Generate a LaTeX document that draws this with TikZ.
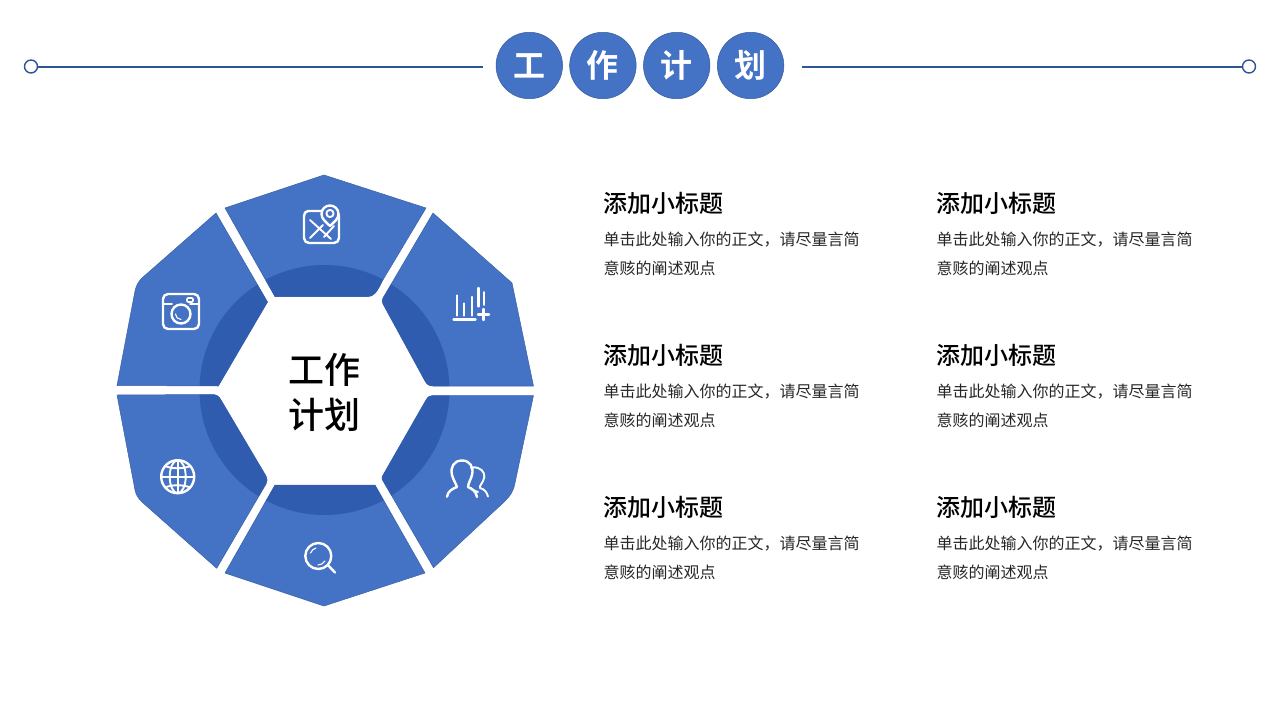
\documentclass[tikz,border=0pt]{standalone}
\usepackage{fontspec}
\newfontfamily\cjk{Noto Sans CJK SC}
\newfontfamily\cjkb{Noto Sans CJK SC Bold}
\newfontfamily\cjkm{Noto Sans CJK SC Medium}
\definecolor{segblue}{HTML}{4472C4}
\definecolor{segdark}{HTML}{2F5CAE}
\definecolor{edgeblue}{HTML}{2F5597}
\newcommand{\segT}{(324,175) -- (426,208) -- (382,281.5) .. controls (377,292) and (374,296.7) .. (367,296.7) -- (275,296.7) -- (225,208) -- cycle}
\newcommand{\segUL}{(216,213) -- (142,278) .. controls (138,282) and (136,286) .. (135,291) -- (117,385.5) -- (218.3,386) -- (267.5,302) -- cycle}
\newcommand{\segUR}{(433,213) -- (512,283) -- (533.5,386) -- (433,386) .. controls (429,386) and (427,384.5) .. (425,381) -- (383,304) .. controls (382,302) and (382,300) .. (383,298) -- cycle}
\newcommand{\segLL}{(117,395) -- (212,394.5) .. controls (216,394.5) and (219,396) .. (221,400) -- (266,476) .. controls (267.5,479) and (267.5,481) .. (266,484) -- (216.7,568.3) -- (142,502) .. controls (138,498) and (136,495) .. (135,490) -- cycle}
\newcommand{\segLR}{(533.5,395.5) -- (515,483) .. controls (513.5,491) and (511,495) .. (504,502) -- (433.5,567.7) -- (382.5,480) .. controls (381.8,479) and (381.8,478) .. (382.5,476) -- (426,400) .. controls (428,396.5) and (430,395.5) .. (433,395.5) -- cycle}
\newcommand{\segB}{(225,573) -- (324,606) -- (425,573) -- (375,485) -- (275,485) -- cycle}
\tikzset{
  segfill/.style={fill=segblue,draw=segblue!85!black,line width=0.5pt,line join=round},
  icon/.style={draw=white,line width=2.4pt,line cap=round,line join=round},
  thinicon/.style={icon,line width=1.9pt},
  badge/.style={circle,fill=segblue,draw=segblue!80!black,line width=0.5pt,minimum size=66.5pt,inner sep=0pt},
  badgetext/.style={text=white,inner sep=0pt,anchor=base,font={\cjkb\fontsize{32}{32}\selectfont}},
  endring/.style={circle,fill=white,draw=edgeblue,line width=1.4pt,minimum size=13pt,inner sep=0pt},
  rule/.style={draw=edgeblue,line width=2pt},
  heading/.style={anchor=base west,inner sep=0pt,text=black,font={\cjkm\fontsize{24}{24}\selectfont}},
  bodytext/.style={anchor=base west,inner sep=0pt,text=black!85,font={\cjk\fontsize{16}{16}\selectfont}},
  hub/.style={anchor=base,inner sep=0pt,text=black,font={\cjkm\fontsize{36}{36}\selectfont}}
}
\begin{document}
\begin{tikzpicture}[x=1pt,y=-1pt]
\useasboundingbox (0,0) rectangle (1280,720);
% header
\node[endring] (lc) at (31,66.5) {};
\node[endring] (rc) at (1249,66.5) {};
\coordinate (le) at (483,66.5);
\coordinate (re) at (802,66.5);
\draw[rule] (lc) -- (le);
\draw[rule] (re) -- (rc);
\node[badge] (b1) at (529.3,65.5) {};
\node[badge] (b2) at (602.9,65.5) {};
\node[badge] (b3) at (676.7,65.5) {};
\node[badge] (b4) at (750.6,65.5) {};
\node[badgetext] (t1) at (529.3,77) {工};
\node[badgetext] (t2) at (602.9,77) {作};
\node[badgetext] (t3) at (676.7,77) {计};
\node[badgetext] (t4) at (750.6,77) {划};
% ring segments
\foreach \s in {\segT,\segUL,\segUR,\segLL,\segLR,\segB}{
  \path[segfill] \s;
  \begin{scope}
    \clip \s;
    \fill[segdark] (324.5,390) circle (125);
  \end{scope}
}
% hub
\node[hub] (h1) at (324,383) {工作};
\node[hub] (h2) at (324,428) {计划};
% map icon
\draw[icon] (308,211) -- (334,211) to[out=0,in=90] (339,216) -- (339,238) to[out=-90,in=0] (334,243) -- (309,243) to[out=180,in=-90] (304,238) -- (304,216) to[out=90,in=180] (308,211) -- cycle;
\draw[thinicon] (310,220) -- (331,239) (310,238) -- (323,225) (324,237) -- (334,226);
\draw[icon,fill=segblue] (330,226) .. controls (326,222) and (321.5,219) .. (321.5,214) .. controls (321.5,209) and (325.5,205.5) .. (330,205.5) .. controls (334.5,205.5) and (338.5,209) .. (338.5,214) .. controls (338.5,219) and (334,222) .. (330,226) -- cycle;
\draw[thinicon] (330,213.5) circle (3.6);
% camera icon
\draw[icon,rounded corners=5pt] (163,294) rectangle (199,329);
\draw[thinicon] (163,304) -- (172,304) (190,304) -- (199,304);
\draw[icon] (181,314) circle (9.5);
\draw[icon,line width=1.1pt] (175.5,314) arc[start angle=180,end angle=90,radius=5.5];
\draw[icon,line width=1.6pt,rounded corners=1pt] (187,298) rectangle (193,302);
% chart icon
\draw[icon] (453.5,319.3) -- (475.5,319.3);
\draw[icon] (456.7,295.5) -- (456.7,315.5) (464.2,303.5) -- (464.2,315.5) (471.7,297) -- (471.7,315.5) (478.3,288) -- (478.3,306.5);
\draw[thinicon] (484.3,292) -- (484.3,305);
\draw[icon] (483.6,309) -- (483.6,320) (478,314.4) -- (489,314.4);
% users icon
\draw[icon] (447,496.7) .. controls (448,491) and (452,489) .. (457,487) .. controls (456,484) and (453,479) .. (452,475) .. controls (450,467) and (454,460.5) .. (462,460.5) .. controls (470,460.5) and (474,467) .. (472,475) .. controls (471,479) and (468,484) .. (468,487) .. controls (472,489) and (476,491) .. (477,497);
\draw[thinicon] (471,468) .. controls (473,467) and (476,467) .. (478,468) .. controls (484,470) and (486,476) .. (483,481) .. controls (482,484) and (479,486) .. (480,488) .. controls (484,489) and (487,492) .. (488,496.5);
\draw[thinicon] (471,488) -- (474,490.5) -- (478,492);
% globe icon
\draw[icon] (177.7,476.7) circle (16.5);
\draw[thinicon] (177.7,476.7) ellipse (8 and 16.5);
\draw[thinicon] (177.7,460.2) -- (177.7,493.2) (161.2,476.7) -- (194.2,476.7);
\draw[thinicon] (165,466) .. controls (172,469) and (183,469) .. (190.5,466) (165,487.5) .. controls (172,484.5) and (183,484.5) .. (190.5,487.5);
% search icon
\draw[icon] (318.3,556) circle (13);
\draw[icon] (327.8,565) -- (335,572.5);
\draw[icon,line width=1.1pt] (310.5,553) arc[start angle=200,end angle=255,radius=8];
\draw[icon,line width=1.1pt] (318,565) arc[start angle=90,end angle=30,radius=8];
% texts
\foreach \n/\x/\y in {a/603.5/212,b/936.5/212,c/603.5/364,d/936.5/364,e/603.5/516,f/936.5/516}{
  \node[heading] (head\n) at (\x,\y) {添加小标题};
  \node[bodytext] (bodyA\n) at (\x,\y+33) {单击此处输入你的正文，请尽量言简};
  \node[bodytext] (bodyB\n) at (\x,\y+62) {意赅的阐述观点};
}
\end{tikzpicture}
\end{document}
